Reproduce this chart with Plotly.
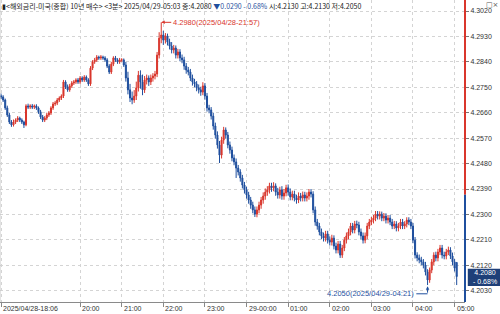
import plotly.graph_objects as go

# 3-minute candles, index 0 = 2025/04/28 18:06 ... 219 = 2025/04/29 05:03
opens = [
    4.2720, 4.2716, 4.2705, 4.2677, 4.2652, 4.2627, 4.2617, 4.2627, 4.2634, 4.2641,
    4.2634, 4.2627, 4.2617, 4.2684, 4.2680, 4.2684, 4.2680, 4.2684, 4.2677, 4.2663,
    4.2645, 4.2634, 4.2641, 4.2652, 4.2659, 4.2677, 4.2691, 4.2694, 4.2705, 4.2712,
    4.2719, 4.2769, 4.2751, 4.2741, 4.2755, 4.2765, 4.2769, 4.2776, 4.2769, 4.2783,
    4.2776, 4.2786, 4.2776, 4.2762, 4.2818, 4.2840, 4.2847, 4.2857, 4.2854, 4.2857,
    4.2854, 4.2847, 4.2825, 4.2804, 4.2832, 4.2854, 4.2847, 4.2840, 4.2847, 4.2847,
    4.2829, 4.2783, 4.2741, 4.2712, 4.2705, 4.2719, 4.2748, 4.2793, 4.2769, 4.2741,
    4.2776, 4.2783, 4.2769, 4.2783, 4.2790, 4.2797, 4.2864, 4.2924, 4.2935, 4.2917,
    4.2932, 4.2910, 4.2896, 4.2882, 4.2889, 4.2864, 4.2875, 4.2854, 4.2847, 4.2825,
    4.2811, 4.2804, 4.2783, 4.2769, 4.2762, 4.2748, 4.2741, 4.2733, 4.2755, 4.2719,
    4.2677, 4.2670, 4.2648, 4.2613, 4.2581, 4.2546, 4.2510, 4.2563, 4.2599, 4.2581,
    4.2546, 4.2528, 4.2500, 4.2486, 4.2464, 4.2450, 4.2429, 4.2404, 4.2387, 4.2369,
    4.2351, 4.2333, 4.2316, 4.2301, 4.2316, 4.2333, 4.2351, 4.2365, 4.2379, 4.2387,
    4.2401, 4.2394, 4.2401, 4.2379, 4.2369, 4.2387, 4.2365, 4.2376, 4.2394, 4.2379,
    4.2362, 4.2372, 4.2358, 4.2351, 4.2365, 4.2358, 4.2369, 4.2358, 4.2365, 4.2379,
    4.2372, 4.2316, 4.2273, 4.2259, 4.2238, 4.2224, 4.2216, 4.2231, 4.2209, 4.2202,
    4.2216, 4.2188, 4.2174, 4.2195, 4.2156, 4.2181, 4.2209, 4.2224, 4.2238, 4.2259,
    4.2245, 4.2266, 4.2263, 4.2238, 4.2224, 4.2209, 4.2224, 4.2259, 4.2273, 4.2280,
    4.2287, 4.2301, 4.2294, 4.2301, 4.2287, 4.2294, 4.2280, 4.2287, 4.2273, 4.2259,
    4.2266, 4.2252, 4.2259, 4.2273, 4.2259, 4.2266, 4.2280, 4.2273, 4.2259, 4.2209,
    4.2156, 4.2146, 4.2139, 4.2132, 4.2121, 4.2096, 4.2068, 4.2103, 4.2132, 4.2156,
    4.2146, 4.2167, 4.2181, 4.2156, 4.2153, 4.2167, 4.2174, 4.2153, 4.2132, 4.2130,
]
highs = [
    4.2728, 4.2722, 4.2710, 4.2685, 4.2660, 4.2634, 4.2636, 4.2640, 4.2648, 4.2646,
    4.2640, 4.2632, 4.2690, 4.2692, 4.2690, 4.2691, 4.2689, 4.2690, 4.2682, 4.2670,
    4.2652, 4.2648, 4.2660, 4.2666, 4.2683, 4.2698, 4.2702, 4.2712, 4.2718, 4.2725,
    4.2776, 4.2775, 4.2760, 4.2762, 4.2772, 4.2776, 4.2782, 4.2783, 4.2790, 4.2789,
    4.2793, 4.2792, 4.2782, 4.2825, 4.2846, 4.2854, 4.2864, 4.2862, 4.2864, 4.2862,
    4.2860, 4.2853, 4.2832, 4.2840, 4.2860, 4.2861, 4.2853, 4.2854, 4.2853, 4.2852,
    4.2840, 4.2805, 4.2762, 4.2735, 4.2740, 4.2770, 4.2808, 4.2810, 4.2795, 4.2790,
    4.2795, 4.2792, 4.2795, 4.2800, 4.2808, 4.2875, 4.2945, 4.2980, 4.2950, 4.2942,
    4.2940, 4.2922, 4.2910, 4.2900, 4.2898, 4.2886, 4.2885, 4.2866, 4.2858, 4.2836,
    4.2822, 4.2815, 4.2795, 4.2780, 4.2772, 4.2760, 4.2752, 4.2768, 4.2765, 4.2730,
    4.2688, 4.2680, 4.2660, 4.2625, 4.2594, 4.2560, 4.2575, 4.2610, 4.2608, 4.2592,
    4.2558, 4.2540, 4.2512, 4.2498, 4.2475, 4.2460, 4.2440, 4.2415, 4.2398, 4.2380,
    4.2362, 4.2345, 4.2328, 4.2328, 4.2345, 4.2362, 4.2378, 4.2392, 4.2400, 4.2412,
    4.2412, 4.2414, 4.2410, 4.2394, 4.2398, 4.2400, 4.2390, 4.2405, 4.2406, 4.2392,
    4.2384, 4.2384, 4.2370, 4.2378, 4.2376, 4.2381, 4.2380, 4.2378, 4.2390, 4.2390,
    4.2382, 4.2328, 4.2284, 4.2270, 4.2250, 4.2236, 4.2242, 4.2242, 4.2222, 4.2228,
    4.2226, 4.2200, 4.2206, 4.2206, 4.2192, 4.2220, 4.2236, 4.2250, 4.2270, 4.2270,
    4.2277, 4.2278, 4.2274, 4.2250, 4.2236, 4.2236, 4.2270, 4.2284, 4.2291, 4.2298,
    4.2312, 4.2312, 4.2311, 4.2310, 4.2305, 4.2304, 4.2298, 4.2298, 4.2284, 4.2277,
    4.2276, 4.2270, 4.2284, 4.2284, 4.2276, 4.2290, 4.2290, 4.2284, 4.2270, 4.2220,
    4.2166, 4.2158, 4.2150, 4.2142, 4.2132, 4.2106, 4.2112, 4.2142, 4.2166, 4.2168,
    4.2178, 4.2192, 4.2192, 4.2168, 4.2178, 4.2186, 4.2184, 4.2165, 4.2142, 4.2130,
]
lows = [
    4.2708, 4.2698, 4.2670, 4.2645, 4.2620, 4.2610, 4.2611, 4.2620, 4.2627, 4.2627,
    4.2620, 4.2606, 4.2612, 4.2673, 4.2673, 4.2673, 4.2673, 4.2670, 4.2656, 4.2638,
    4.2627, 4.2627, 4.2634, 4.2645, 4.2652, 4.2670, 4.2684, 4.2687, 4.2698, 4.2705,
    4.2712, 4.2744, 4.2734, 4.2734, 4.2748, 4.2758, 4.2762, 4.2762, 4.2762, 4.2769,
    4.2769, 4.2769, 4.2755, 4.2755, 4.2811, 4.2833, 4.2840, 4.2847, 4.2847, 4.2847,
    4.2840, 4.2818, 4.2797, 4.2797, 4.2825, 4.2840, 4.2833, 4.2833, 4.2840, 4.2822,
    4.2770, 4.2725, 4.2698, 4.2690, 4.2695, 4.2705, 4.2735, 4.2745, 4.2722, 4.2730,
    4.2760, 4.2755, 4.2758, 4.2770, 4.2778, 4.2786, 4.2852, 4.2906, 4.2900, 4.2905,
    4.2898, 4.2884, 4.2870, 4.2870, 4.2852, 4.2852, 4.2842, 4.2835, 4.2812, 4.2798,
    4.2792, 4.2772, 4.2756, 4.2750, 4.2736, 4.2728, 4.2720, 4.2722, 4.2706, 4.2664,
    4.2658, 4.2636, 4.2600, 4.2568, 4.2533, 4.2482, 4.2498, 4.2550, 4.2568, 4.2534,
    4.2515, 4.2488, 4.2474, 4.2429, 4.2438, 4.2416, 4.2392, 4.2374, 4.2356, 4.2338,
    4.2320, 4.2304, 4.2291, 4.2290, 4.2304, 4.2320, 4.2338, 4.2352, 4.2366, 4.2374,
    4.2380, 4.2382, 4.2366, 4.2356, 4.2356, 4.2352, 4.2352, 4.2364, 4.2366, 4.2350,
    4.2350, 4.2346, 4.2338, 4.2340, 4.2346, 4.2346, 4.2346, 4.2346, 4.2352, 4.2360,
    4.2304, 4.2260, 4.2246, 4.2226, 4.2212, 4.2204, 4.2204, 4.2197, 4.2190, 4.2190,
    4.2176, 4.2162, 4.2162, 4.2146, 4.2146, 4.2170, 4.2197, 4.2212, 4.2226, 4.2233,
    4.2233, 4.2251, 4.2226, 4.2212, 4.2197, 4.2198, 4.2212, 4.2248, 4.2262, 4.2268,
    4.2276, 4.2282, 4.2282, 4.2276, 4.2276, 4.2268, 4.2268, 4.2262, 4.2248, 4.2248,
    4.2240, 4.2240, 4.2248, 4.2248, 4.2248, 4.2254, 4.2262, 4.2248, 4.2198, 4.2144,
    4.2134, 4.2127, 4.2120, 4.2109, 4.2084, 4.2050, 4.2058, 4.2092, 4.2120, 4.2134,
    4.2134, 4.2156, 4.2144, 4.2141, 4.2141, 4.2156, 4.2142, 4.2120, 4.2098, 4.2050,
]
closes = [
    4.2716, 4.2705, 4.2677, 4.2652, 4.2627, 4.2617, 4.2627, 4.2634, 4.2641, 4.2634,
    4.2627, 4.2617, 4.2684, 4.2680, 4.2684, 4.2680, 4.2684, 4.2677, 4.2663, 4.2645,
    4.2634, 4.2641, 4.2652, 4.2659, 4.2677, 4.2691, 4.2694, 4.2705, 4.2712, 4.2719,
    4.2769, 4.2751, 4.2741, 4.2755, 4.2765, 4.2769, 4.2776, 4.2769, 4.2783, 4.2776,
    4.2786, 4.2776, 4.2762, 4.2818, 4.2840, 4.2847, 4.2857, 4.2854, 4.2857, 4.2854,
    4.2847, 4.2825, 4.2804, 4.2832, 4.2854, 4.2847, 4.2840, 4.2847, 4.2847, 4.2829,
    4.2783, 4.2741, 4.2712, 4.2705, 4.2719, 4.2748, 4.2793, 4.2769, 4.2741, 4.2776,
    4.2783, 4.2769, 4.2783, 4.2790, 4.2797, 4.2864, 4.2924, 4.2935, 4.2917, 4.2932,
    4.2910, 4.2896, 4.2882, 4.2889, 4.2864, 4.2875, 4.2854, 4.2847, 4.2825, 4.2811,
    4.2804, 4.2783, 4.2769, 4.2762, 4.2748, 4.2741, 4.2733, 4.2755, 4.2719, 4.2677,
    4.2670, 4.2648, 4.2613, 4.2581, 4.2546, 4.2510, 4.2563, 4.2599, 4.2581, 4.2546,
    4.2528, 4.2500, 4.2486, 4.2464, 4.2450, 4.2429, 4.2404, 4.2387, 4.2369, 4.2351,
    4.2333, 4.2316, 4.2301, 4.2316, 4.2333, 4.2351, 4.2365, 4.2379, 4.2387, 4.2401,
    4.2394, 4.2401, 4.2379, 4.2369, 4.2387, 4.2365, 4.2376, 4.2394, 4.2379, 4.2362,
    4.2372, 4.2358, 4.2351, 4.2365, 4.2358, 4.2369, 4.2358, 4.2365, 4.2379, 4.2372,
    4.2316, 4.2273, 4.2259, 4.2238, 4.2224, 4.2216, 4.2231, 4.2209, 4.2202, 4.2216,
    4.2188, 4.2174, 4.2195, 4.2156, 4.2181, 4.2209, 4.2224, 4.2238, 4.2259, 4.2245,
    4.2266, 4.2263, 4.2238, 4.2224, 4.2209, 4.2224, 4.2259, 4.2273, 4.2280, 4.2287,
    4.2301, 4.2294, 4.2301, 4.2287, 4.2294, 4.2280, 4.2287, 4.2273, 4.2259, 4.2266,
    4.2252, 4.2259, 4.2273, 4.2259, 4.2266, 4.2280, 4.2273, 4.2259, 4.2209, 4.2156,
    4.2146, 4.2139, 4.2132, 4.2121, 4.2096, 4.2068, 4.2103, 4.2132, 4.2156, 4.2146,
    4.2167, 4.2181, 4.2156, 4.2153, 4.2167, 4.2174, 4.2153, 4.2132, 4.2110, 4.2080,
]

x_tick_idx = [0, 38, 58, 78, 98, 118, 138, 158, 178, 198, 218]
x_tick_text = ["2025/04/28-18:06", "20:00", "21:00", "22:00", "23:00", "29-00:00",
               "01:00", "02:00", "03:00", "04:00", "05:00"]
y_ticks = [4.3020, 4.2930, 4.2840, 4.2750, 4.2660, 4.2570, 4.2480, 4.2390,
           4.2300, 4.2210, 4.2120, 4.2030]
y_tick_text = ["4.3020", "4.2930", "4.2840", "4.2750", "4.2660", "4.2570", "4.2480",
               "4.2390", "4.2300", "4.2210", "4.2120", "4.2030"]

prev_close = 4.2370
last_price = 4.2080
high_idx, high_val, high_text = 77, 4.2980, "4.2980(2025/04/28-21:57)"
low_idx, low_val, low_text = 205, 4.2050, "4.2050(2025/04/29-04:21)"
title_main = "▮<해외금리-미국(종합) 10년 매수> <3분> 2025/04/29-05:03 종:4.2080 "
title_chg = "▼0.0290 - 0.68%"
title_rest = " 시:4.2130 고:4.2130 저:4.2050"

RED = "#d9362c"
BLUE = "#1f4f9e"
NUM_FONT = "Liberation Sans"

fig = go.Figure()
fig.add_trace(go.Candlestick(
    x=list(range(len(closes))), open=opens, high=highs, low=lows, close=closes,
    increasing=dict(line=dict(color=RED, width=1), fillcolor=RED),
    decreasing=dict(line=dict(color=BLUE, width=1), fillcolor=BLUE),
    whiskerwidth=0, showlegend=False, hoverinfo="skip",
))

y0, y1 = 4.1990, 4.3059
fig.update_layout(
    width=500, height=314,
    margin=dict(l=0, r=35, t=0, b=12),
    paper_bgcolor="white", plot_bgcolor="white",
    showlegend=False,
    xaxis=dict(
        range=[-0.5, 223], rangeslider=dict(visible=False),
        tickmode="array", tickvals=x_tick_idx, ticktext=[""] * len(x_tick_idx),
        showticklabels=False, ticks="outside", ticklen=4, tickcolor="#888",
        showgrid=True, gridcolor="#d4d4d4", griddash="dot", gridwidth=1,
        showline=True, linecolor="#8a8a8a", linewidth=1, zeroline=False,
    ),
    yaxis=dict(
        side="right", range=[y0, y1],
        tickmode="array", tickvals=y_ticks, ticktext=y_tick_text,
        ticks="outside", ticklen=3, tickcolor="#777",
        tickfont=dict(family=NUM_FONT, size=7, color="#333"),
        showgrid=True, gridcolor="#d4d4d4", griddash="dot", gridwidth=1,
        showline=False, zeroline=False,
    ),
)

shapes = []
# colored right axis line: red above previous close, blue below
shapes.append(dict(type="line", xref="paper", yref="y", x0=1.0, x1=1.0,
                   y0=prev_close, y1=y1, line=dict(color=RED, width=2)))
shapes.append(dict(type="line", xref="paper", yref="y", x0=1.0, x1=1.0,
                   y0=y0, y1=prev_close, line=dict(color=BLUE, width=2)))
# left border
shapes.append(dict(type="line", xref="paper", yref="paper", x0=0, x1=0, y0=0, y1=1,
                   line=dict(color="#c8c8c8", width=1)))
# current price box
shapes.append(dict(type="rect", xref="paper", yref="y", x0=1.006, x1=1.08,
                   y0=last_price - 0.0033, y1=last_price + 0.0028,
                   fillcolor="#1e3f78", line=dict(width=0), layer="above"))
# low marker elbow line
shapes.append(dict(type="line", xref="x", yref="y", x0=199.6, x1=low_idx,
                   y0=4.2019, y1=4.2019, line=dict(color=BLUE, width=1)))
fig.update_layout(shapes=shapes)

ann = []
for xi, txt in zip(x_tick_idx, x_tick_text):
    ann.append(dict(x=xi, xref="x", y=0, yref="paper", text=txt, showarrow=False,
                    xanchor="left", yanchor="top", xshift=0, yshift=-1,
                    font=dict(family=NUM_FONT, size=7, color="#333")))
# title
ann.append(dict(x=0, xref="paper", y=1, yref="paper", xanchor="left", yanchor="top",
                showarrow=False, yshift=1,
                text=title_main + f'<span style="color:{BLUE}">{title_chg}</span>' + title_rest,
                font=dict(family="Noto Sans CJK KR", size=7, color="#222")))
ann.append(dict(x=1.075, xref="paper", y=1, yref="paper", xanchor="right", yanchor="top",
                showarrow=False, text="□×", yshift=1,
                font=dict(family="DejaVu Sans", size=7, color="#555")))
# high annotation
ann.append(dict(x=high_idx, y=high_val, xref="x", yref="y", text=high_text,
                showarrow=True, ax=10, ay=0, xanchor="left", arrowhead=2, arrowsize=0.7,
                arrowwidth=1, arrowcolor=RED, standoff=0,
                font=dict(family=NUM_FONT, size=7.5, color=RED)))
# low annotation
ann.append(dict(x=199.6, y=4.2019, xref="x", yref="y", text=low_text, showarrow=False,
                xanchor="right", yanchor="middle",
                font=dict(family=NUM_FONT, size=7.5, color=BLUE)))
ann.append(dict(x=low_idx, y=low_val - 0.0004, xref="x", yref="y", text="",
                showarrow=True, ax=0, ay=8, arrowhead=2, arrowsize=0.7, arrowwidth=1,
                arrowcolor=BLUE, standoff=0))
# current price label
ann.append(dict(x=1.043, xref="paper", y=last_price, yref="y", showarrow=False,
                text="4.2080<br>- 0.68%", xanchor="center", yanchor="middle",
                font=dict(family=NUM_FONT, size=7, color="white")))
fig.update_layout(annotations=ann)

fig.write_html("out.html")
